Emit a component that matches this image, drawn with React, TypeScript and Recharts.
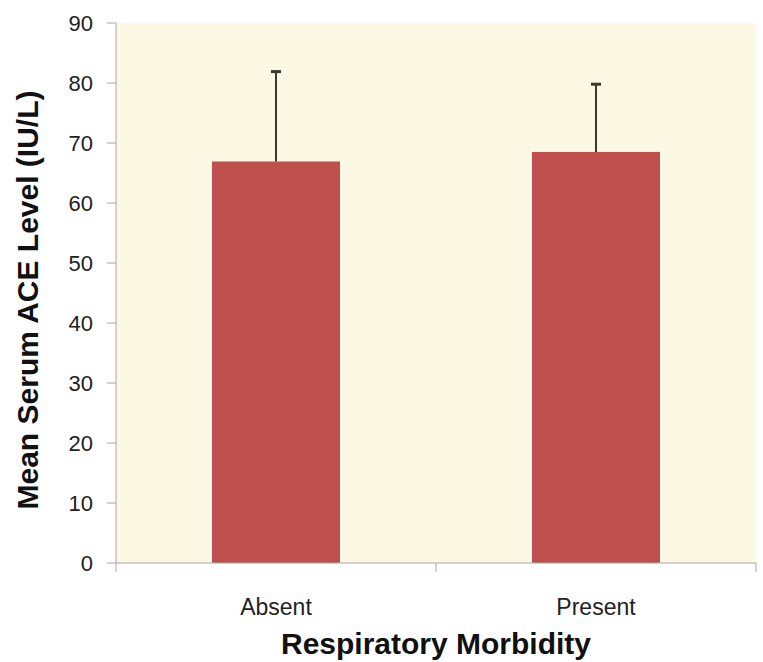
import { BarChart, Bar, XAxis, YAxis, CartesianGrid, Label } from 'recharts';

const categories = ['Absent', 'Present'];
const meanAce = [66.9, 68.5];
const sdAce = [15.0, 11.3];
const yTicks = [0, 10, 20, 30, 40, 50, 60, 70, 80, 90];

const data = categories.map((name, i) => ({ name, mean: meanAce[i], sd: sdAce[i] }));

const FONT = 'Liberation Sans, Arial, sans-serif';
const X_TICK_MARGIN = 36;

// stacked on top of the mean bar, draws only the upper whisker
const ErrorWhisker = (props: any) => {
    const { x, y, width, height } = props;
    const cx = x + width / 2;
    return (
        <g>
            <line x1={cx} x2={cx} y1={y + height} y2={y} stroke="#3a3a32" strokeWidth={2} />
            <line x1={cx - 5} x2={cx + 5} y1={y} y2={y} stroke="#3a3a32" strokeWidth={3} />
        </g>
    );
};

// category label plus Excel-style tick marks on the category boundaries
const CategoryTick = (props: any) => {
    const { x, y, payload, index, visibleTicksCount } = props;
    const half = payload.offset || 0;
    const axisY = y - X_TICK_MARGIN;
    const isLast = index === visibleTicksCount - 1;
    return (
        <g>
            <line x1={x - half} x2={x - half} y1={axisY} y2={axisY + 9} stroke="#a6a6a6" />
            {isLast && <line x1={x + half} x2={x + half} y1={axisY} y2={axisY + 9} stroke="#a6a6a6" />}
            <text x={x} y={y} dy="0.71em" textAnchor="middle" fill="#222" fontSize={23} fontFamily={FONT}>
                {payload.value}
            </text>
        </g>
    );
};

export default function App() {
    return (
        <div style={{ position: 'absolute', left: 0, top: 0, background: '#fff' }}>
            <BarChart
                width={763}
                height={662}
                data={data}
                margin={{ top: 23, right: 7, bottom: 0, left: 0 }}
                barCategoryGap="30%"
            >
                <CartesianGrid horizontal={false} vertical={false} stroke="none" fill="#FCF8E4" />
                <XAxis
                    dataKey="name"
                    height={99}
                    stroke="#a6a6a6"
                    tickLine={false}
                    tickSize={0}
                    tickMargin={X_TICK_MARGIN}
                    tick={<CategoryTick />}
                >
                    <Label
                        content={() => (
                            <text
                                x={436}
                                y={654}
                                textAnchor="middle"
                                fontSize={30}
                                fontWeight="bold"
                                fontFamily={FONT}
                                fill="#111"
                            >
                                Respiratory Morbidity
                            </text>
                        )}
                    />
                </XAxis>
                <YAxis
                    width={116}
                    domain={[0, 90]}
                    ticks={yTicks}
                    interval={0}
                    tickSize={9}
                    tickMargin={14}
                    stroke="#a6a6a6"
                    tick={{ fill: '#222', fontSize: 22, fontFamily: FONT }}
                >
                    <Label
                        content={() => (
                            <text
                                x={38}
                                y={300}
                                transform="rotate(-90, 38, 300)"
                                textAnchor="middle"
                                fontSize={30}
                                fontWeight="bold"
                                fontFamily={FONT}
                                fill="#111"
                            >
                                Mean Serum ACE Level (IU/L)
                            </text>
                        )}
                    />
                </YAxis>
                <Bar dataKey="mean" stackId="a" fill="#C0504D" isAnimationActive={false} />
                <Bar dataKey="sd" stackId="a" shape={ErrorWhisker} isAnimationActive={false} />
            </BarChart>
        </div>
    );
}
